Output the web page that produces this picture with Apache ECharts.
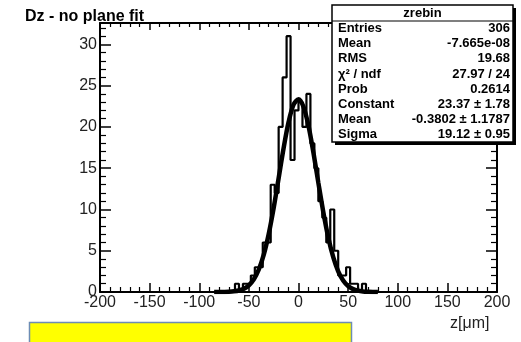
<!DOCTYPE html>
<html>
<head>
<meta charset="utf-8">
<script src="https://cdn.jsdelivr.net/npm/echarts@6/dist/echarts.min.js"></script>
<style>
	html, body { margin: 0; padding: 0; background: #ffffff; }
	#main { width: 521px; height: 342px; }
</style>
</head>
<body>
<div id="main"></div>
<script>
// histogram: bins of width 4 starting at binLow, zero elsewhere in [-200, 200]
const xRange = [-200, 200];
const binLow = -64;
const binWidth = 4;
const counts = [1, 0, 1, 1, 2, 3, 3, 6, 6, 13, 12, 20, 26, 31, 16, 22, 23, 20, 24, 18, 15, 11, 9, 6, 10, 5, 2, 2, 3, 1, 1, 0, 1];

// gaus fit curve
const fitX = [-85, -80, -75, -70, -65, -60, -55, -50, -45, -40, -35, -30, -25, -20, -15, -10, -5, 0, 5, 10, 15, 20, 25, 30, 35, 40, 45, 50, 55, 60, 65, 70, 75, 80];
const fitY = [0, 0, 0.01, 0.03, 0.08, 0.18, 0.40, 0.81, 1.54, 2.73, 4.53, 7.04, 10.2, 13.8, 17.44, 20.59, 22.7, 23.37, 22.46, 20.17, 16.91, 13.24, 9.69, 6.61, 4.22, 2.51, 1.4, 0.73, 0.35, 0.16, 0.07, 0.03, 0.01, 0];

const xTicks = ['-200', '-150', '-100', '-50', '0', '50', '100', '150', '200'];
const statLabels = ['Entries', 'Mean', 'RMS', 'χ² / ndf', 'Prob', 'Constant', 'Mean', 'Sigma'];
const statValues = ['306', '-7.665e-08', '19.68', '27.97 / 24', '0.2614', '23.37 ± 1.78', '-0.3802 ± 1.1787', '19.12 ± 0.95'];

const chart = echarts.init(document.getElementById('main'));

// step outline of the histogram
let hist = [[xRange[0], 0], [binLow, 0]];
counts.forEach(function(c, i) {
	let lo = binLow + i * binWidth;
	hist.push([lo, c]);
	hist.push([lo + binWidth, c]);
});
hist.push([binLow + counts.length * binWidth, 0]);
hist.push([xRange[1], 0]);

const font = 'Liberation Sans, Arial, Helvetica, sans-serif';

function axisBase(pos, showLabel, major, minor) {
	return {
		type: 'value',
		position: pos,
		axisLine: { show: true, onZero: false, lineStyle: { color: '#000', width: 2 } },
		axisTick: { show: true, inside: true, length: major, lineStyle: { color: '#000', width: 1.5 } },
		minorTick: { show: true, splitNumber: 5, length: minor, lineStyle: { color: '#000', width: 1.2 } },
		splitLine: { show: false },
		axisLabel: { show: showLabel, color: '#222', fontSize: 16, fontFamily: font, margin: 4 }
	};
}

// stats box
let stats = [];
const boxX = 332, boxY = 5, boxW = 181, boxH = 137, rowH = 15.2;
stats.push({ type: 'rect', shape: { x: boxX + 3, y: boxY + 3, width: boxW, height: boxH }, style: { fill: '#000' }, z: 10 });
stats.push({ type: 'rect', shape: { x: boxX, y: boxY, width: boxW, height: boxH }, style: { fill: '#fff', stroke: '#000', lineWidth: 1.5 }, z: 11 });
stats.push({ type: 'line', shape: { x1: boxX, y1: boxY + 16, x2: boxX + boxW, y2: boxY + 16 }, style: { stroke: '#000', lineWidth: 1.2 }, z: 12 });
stats.push({ type: 'text', x: boxX + boxW / 2, y: boxY + 8, style: { text: 'zrebin', font: 'bold 13px ' + font, fill: '#000', align: 'center', verticalAlign: 'middle' }, z: 12 });
statLabels.forEach(function(l, i) {
	let ty = boxY + 23.5 + i * rowH;
	stats.push({ type: 'text', x: boxX + 6, y: ty, style: { text: l, font: 'bold 13px ' + font, fill: '#000', align: 'left', verticalAlign: 'middle' }, z: 12 });
	stats.push({ type: 'text', x: boxX + boxW - 3, y: ty, style: { text: statValues[i], font: 'bold 13px ' + font, fill: '#000', align: 'right', verticalAlign: 'middle' }, z: 12 });
});

let option = {
	backgroundColor: '#ffffff',
	animation: false,
	grid: {
		left: 100,
		right: 24,
		top: 23,
		bottom: 50
	},
	xAxis: [
		Object.assign(axisBase('bottom', true, 9, 5), {
			min: xRange[0], max: xRange[1], interval: 50,
			axisLabel: { color: '#222', fontSize: 16, fontFamily: font, margin: 3,
				formatter: function(v) { return xTicks[(v - xRange[0]) / 50]; } }
		}),
		Object.assign(axisBase('top', false, 7, 4), { min: xRange[0], max: xRange[1], interval: 50 })
	],
	yAxis: [
		Object.assign(axisBase('left', true, 11, 6), { min: 0, max: 32.6, interval: 5,
			axisLabel: { color: '#222', fontSize: 16, fontFamily: font, margin: 3, showMaxLabel: false } }),
		Object.assign(axisBase('right', false, 11, 6), { min: 0, max: 32.6, interval: 5 })
	],
	series: [{
		name: 'zrebin',
		type: 'line',
		data: hist,
		symbol: 'none',
		lineStyle: { color: '#000', width: 2.2 },
		z: 3
	}, {
		name: 'gaus',
		type: 'line',
		data: fitX.map(function(x, i) { return [x, fitY[i]]; }),
		smooth: 0.3,
		symbol: 'none',
		lineStyle: { color: '#000', width: 4.5 },
		z: 4
	}],
	graphic: [
		{ type: 'text', left: 25, top: 9, style: { text: 'Dz - no plane fit', font: 'bold 16px ' + font, fill: '#000' } },
		{ type: 'text', left: 450, top: 316, style: { text: 'z[μm]', font: '16px ' + font, fill: '#222' } },
		{ type: 'rect', shape: { x: 29.5, y: 322.5, width: 322, height: 30 }, style: { fill: '#ffff00', stroke: '#6d8db5', lineWidth: 1.5 } },
		{ type: 'group', children: stats }
	]
};
chart.setOption(option);
</script>
</body>
</html>
